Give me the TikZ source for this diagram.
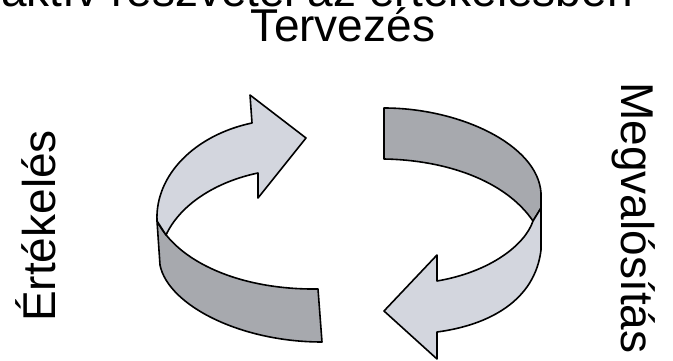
\documentclass[tikz,border=0pt]{standalone}
\usepackage{fontspec}
\setmainfont{Liberation Sans}
\definecolor{bandLight}{RGB}{211,214,222} % 浅色带
\definecolor{bandDark}{RGB}{167,169,174}  % 深色带

\begin{document}
\begin{tikzpicture}[x=1pt, y=-1pt, % 按像素坐标作图，y 轴向下
                every node/.style={font=\fontsize{46}{46}\selectfont, inner sep=0pt}, % 统一设置节点字体大小
                band/.style={draw=black, line width=1.6pt, line join=round} % 箭头带的样式
            ]
            % 固定画面大小
            \useasboundingbox (0,0) rectangle (673,361);
            \clip (0,0) rectangle (673,361);

            % 文字
            \node[anchor=base east] (motto) at (633,7) {aktív részvétel az értékelésben}; % 顶部被截断的标题
            \node[anchor=base] (plan) at (343,41.5) {Tervezés};
            \node[rotate=90, anchor=base] (review) at (55,226) {Értékelés}; % 左侧竖排
            \node[rotate=-90, anchor=base] (execute) at (621,218) {Megvalósítás}; % 右侧竖排

            % 左箭头的深色带（下方）
            \coordinate (L_twist) at (157,221);  % 左侧扭转处
            \coordinate (L_meet) at (166,235);   % 内沿与深色带相交处
            \coordinate (L_end_top) at (318,289);
            \coordinate (L_end_bot) at (322,342);
            \draw[band, fill=bandDark] (L_twist) -- (160,265)
                .. controls (168,305) and (240,342) .. (L_end_bot) -- (L_end_top)
                .. controls (240,290) and (178,262) .. (L_twist) -- cycle;

            % 左箭头的浅色带与箭头
            \coordinate (L_notch_up) at (252,123);
            \coordinate (L_notch_low) at (258,173);
            \coordinate (L_tip) at (306,138); % 箭头尖端
            \draw[band, fill=bandLight] (L_notch_up) -- (250,95) -- (L_tip) -- (258,198) -- (L_notch_low)
                .. controls (215,182) and (180,205) .. (L_meet) -- (L_twist)
                .. controls (155,175) and (195,135) .. (L_notch_up) -- cycle;

            % 右箭头的深色带（上方）
            \coordinate (R_start_top) at (384,108);
            \coordinate (R_start_bot) at (384,159);
            \coordinate (R_side) at (541,208);  % 右侧扭转处
            \coordinate (R_meet) at (533,221);
            \draw[band, fill=bandDark] (R_start_top)
                .. controls (460,108) and (538,145) .. (541,193) -- (R_side) -- (R_meet)
                .. controls (505,180) and (445,160) .. (R_start_bot) -- cycle;

            % 右箭头的浅色带与箭头
            \coordinate (R_notch_up) at (437,281);
            \coordinate (R_notch_low) at (437,332);
            \coordinate (R_tip) at (384,311); % 箭头尖端
            \draw[band, fill=bandLight] (R_side) -- (541,250)
                .. controls (535,300) and (490,325) .. (R_notch_low) -- (437,359) -- (R_tip) -- (437,255) -- (R_notch_up)
                .. controls (490,272) and (525,245) .. (R_meet) -- cycle;

        \end{tikzpicture}
\end{document}
